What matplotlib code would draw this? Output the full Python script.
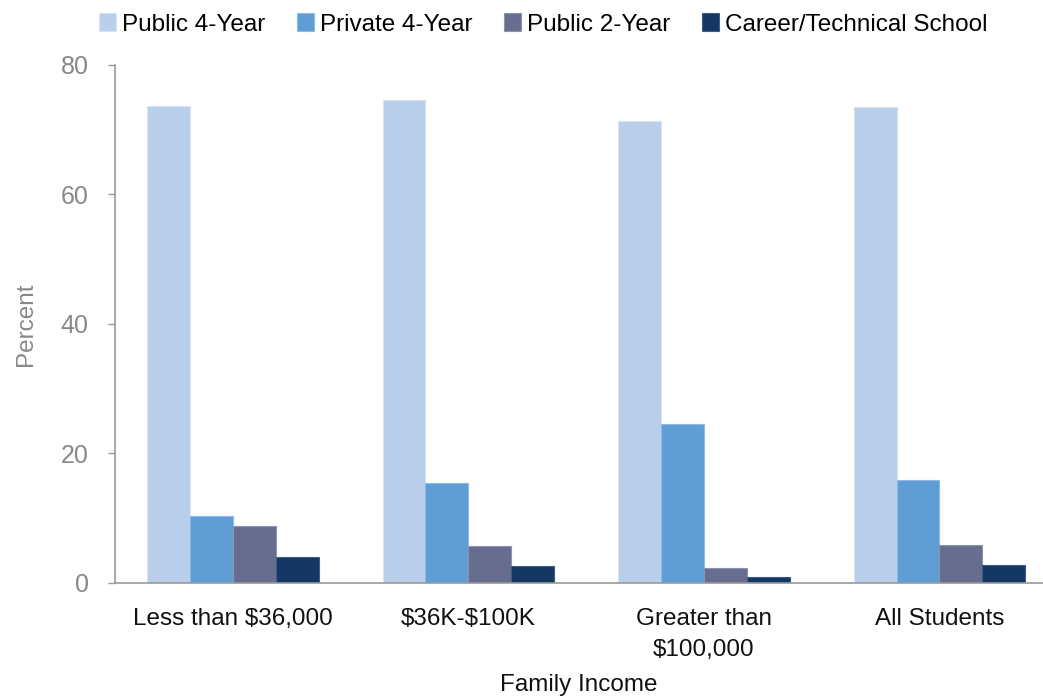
import numpy as np
import matplotlib.pyplot as plt

plt.rcParams['font.family'] = ['Liberation Sans', 'DejaVu Sans']
plt.rcParams['text.parse_math'] = False

groups = ['Less than $36,000', '$36K-$100K', 'Greater than\n$100,000', 'All Students']
series = ['Public 4-Year', 'Private 4-Year', 'Public 2-Year', 'Career/Technical School']
public4 = [73.6, 74.6, 71.4, 73.5]
private4 = [10.4, 15.4, 24.6, 15.9]
public2 = [8.8, 5.7, 2.3, 5.9]
career = [4.0, 2.6, 0.9, 2.7]
colors = ['#B8CEEA', '#5F9ED4', '#666D8F', '#143764']
edges = ['#D6E4F5', '#8DBBE6', '#8C93AF', '#3D5C88']

fig = plt.figure(figsize=(10.43, 6.98), dpi=100)
ax = fig.add_axes([0.1103, 0.1648, 0.8897, 0.7421])

x = np.arange(len(groups))
w = 0.182
data = [public4, private4, public2, career]
for i, vals in enumerate(data):
    ax.bar(x + (i - 1.5) * w, vals, w, color=colors[i], edgecolor=edges[i],
           linewidth=0.8, label=series[i], zorder=2)

ax.set_xlim(-0.5, 3.44)
ax.set_ylim(0, 80)
ax.set_yticks([0, 20, 40, 60, 80])
ax.set_xticks(x)
ax.set_xticklabels(groups, fontsize=17.5, color='#111111', linespacing=1.55)
ax.tick_params(axis='x', length=0, pad=18)
ax.tick_params(axis='y', length=5, width=1, color='#999999', labelcolor='#888888',
               labelsize=18, pad=14, direction='out')
for s in ['top', 'right']:
    ax.spines[s].set_visible(False)
for s in ['left', 'bottom']:
    ax.spines[s].set_color('#999999')
    ax.spines[s].set_linewidth(1.2)

ax.set_ylabel('Percent', fontsize=17.5, color='#888888', labelpad=17)
ax.set_xlabel('Family Income', fontsize=17.5, color='#111111', labelpad=9)

fig.legend(loc='upper center', bbox_to_anchor=(0.521, 1.012), ncol=4, frameon=False,
           fontsize=17.5, handlelength=0.7, handleheight=0.7, handletextpad=0.25,
           columnspacing=1.3)

fig.savefig('out.png', dpi=100)
